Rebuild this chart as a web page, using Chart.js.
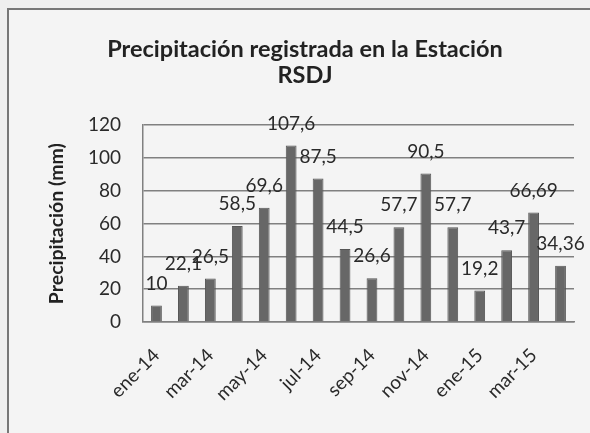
<!DOCTYPE html>
<html>
<head>
<meta charset="utf-8">
<script src="https://cdn.jsdelivr.net/npm/chart.js@4"></script>
<style>
    html, body { margin: 0; padding: 0; overflow: hidden; background: #efefef; }
    #frame {
        position: absolute; left: 7px; top: 8px;
        width: 600px; height: 440px;
        border: 2px solid #777;
        background: #f4f4f4;
    }
    #chart { display: block; }
</style>
</head>
<body>
<div id="frame"><canvas id="chart" width="596" height="436"></canvas></div>
<script>
// Monthly data, ene-14 .. abr-15
const months = ['ene-14', 'feb-14', 'mar-14', 'abr-14', 'may-14', 'jun-14', 'jul-14', 'ago-14',
    'sep-14', 'oct-14', 'nov-14', 'dic-14', 'ene-15', 'feb-15', 'mar-15', 'abr-15'];
const rainfall = [10, 22.1, 26.5, 58.5, 69.6, 107.6, 87.5, 44.5, 26.6, 57.7, 90.5, 57.7, 19.2, 43.7, 66.69, 34.36];
const titleLines = ['Precipitación registrada en la Estación', 'RSDJ'];
const yTitle = 'Precipitación (mm)';

const FONT = 'Lato, "Open Sans", sans-serif';

// Draw the value above each bar, Excel style
const valueLabels = {
    id: 'valueLabels',
    afterDatasetsDraw(chart) {
        const ctx = chart.ctx;
        const meta = chart.getDatasetMeta(0);
        ctx.save();
        ctx.font = '19px ' + FONT;
        ctx.fillStyle = '#2a2a2a';
        ctx.textAlign = 'center';
        ctx.textBaseline = 'middle';
        meta.data.forEach((bar, i) => {
            const txt = String(rainfall[i]).replace('.', ',');
            ctx.fillText(txt, bar.x, bar.y - 22);
        });
        ctx.restore();
    }
};

new Chart(document.getElementById('chart'), {
    type: 'bar',
    data: {
        labels: months,
        datasets: [{
            data: rainfall,
            backgroundColor: '#676767',
            borderColor: '#555',
            borderWidth: 1,
            barPercentage: 0.4,
            categoryPercentage: 1
        }]
    },
    options: {
        responsive: false,
        animation: false,
        layout: { padding: { left: 27, top: 0, right: 31, bottom: 0 } },
        plugins: {
            legend: { display: false },
            tooltip: { enabled: false },
            title: {
                display: true,
                text: titleLines,
                color: '#222',
                font: { family: FONT, size: 23.5, weight: 'bold', lineHeight: 1.11 },
                padding: { top: 26, bottom: 37 }
            }
        },
        scales: {
            x: {
                afterFit: s => { s.height = 124; },
                grid: { display: false },
                border: { display: true, color: '#808080', width: 1.5 },
                ticks: {
                    autoSkip: false,
                    maxRotation: 45,
                    minRotation: 45,
                    padding: 14,
                    color: '#2a2a2a',
                    font: { family: FONT, size: 19 },
                    callback: (v, i) => (i % 2 === 0 ? months[i] : '')
                }
            },
            y: {
                min: 0,
                max: 120,
                afterFit: s => { s.width = 107; },
                grid: { color: '#808080', lineWidth: 1.5, drawTicks: false },
                border: { display: true, color: '#808080', width: 1.5 },
                ticks: {
                    stepSize: 20,
                    padding: 22,
                    color: '#2a2a2a',
                    font: { family: FONT, size: 19 }
                },
                title: {
                    display: true,
                    text: yTitle,
                    color: '#222',
                    font: { family: FONT, size: 19.5, weight: 'bold' },
                    padding: { top: 9, bottom: 0 }
                }
            }
        }
    },
    plugins: [valueLabels]
});
</script>
</body>
</html>
